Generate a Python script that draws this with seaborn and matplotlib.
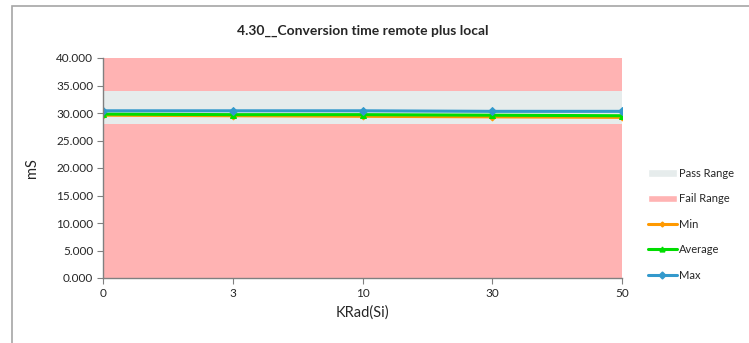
import numpy as np
import matplotlib.pyplot as plt
import seaborn as sns
import pandas as pd
from matplotlib.patches import Rectangle, Patch
from matplotlib.lines import Line2D
from matplotlib.ticker import FormatStrFormatter

sns.set_style('white')
plt.rcParams['font.family'] = ['Lato', 'DejaVu Sans']

# values
krad = ['0', '3', '10', '30', '50']
min_vals = [29.6, 29.5, 29.4, 29.3, 29.2]
avg_vals = [29.8, 29.7, 29.7, 29.6, 29.5]
max_vals = [30.4, 30.4, 30.4, 30.3, 30.3]
pass_low, pass_high = 28.0, 34.0
fail_low, fail_high = 0.0, 40.0

fig = plt.figure(figsize=(7.49, 3.43), dpi=100)
ax = fig.add_axes([103 / 749, 1 - 278 / 343, (622 - 103) / 749, (278 - 58) / 343])

# outer chart border
fig.patches.append(Rectangle((11.5 / 749, -0.05), 1.0, 1 - 6.5 / 343 + 0.05,
                             transform=fig.transFigure, fill=False,
                             edgecolor='#a6a6a6', linewidth=1.2))

xs = np.arange(len(krad))
fail_col = '#ffb3b3'
pass_col = '#e6ecec'
ax.fill_between(xs, fail_low, pass_low, color=fail_col, linewidth=0)
ax.fill_between(xs, pass_low, pass_high, color=pass_col, linewidth=0)
ax.fill_between(xs, pass_high, fail_high, color=fail_col, linewidth=0)

df = pd.DataFrame({'x': xs, 'Min': min_vals, 'Average': avg_vals, 'Max': max_vals})
styles = {'Min': ('#ff9900', 'D', 3.5), 'Average': ('#00dd00', '^', 4.5), 'Max': ('#3399cc', 'D', 4.5)}
for name, (col, mk, ms) in styles.items():
    sns.lineplot(data=df, x='x', y=name, ax=ax, color=col, marker=mk, markersize=ms,
                 markeredgecolor=col, linewidth=2.2, legend=False)

ax.set_xlim(0, len(krad) - 1)
ax.set_ylim(0, 40)
ax.set_xticks(xs)
ax.set_xticklabels(krad)
ax.set_yticks(np.arange(0, 40.1, 5))
ax.yaxis.set_major_formatter(FormatStrFormatter('%.3f'))
ax.tick_params(axis='both', labelsize=8.5, length=4, color='#808080', direction='out',
               bottom=True, left=True, pad=3)
for s in ['top', 'right']:
    ax.spines[s].set_visible(False)
for s in ['left', 'bottom']:
    ax.spines[s].set_color('#808080')
    ax.spines[s].set_linewidth(1)
ax.set_xlabel('KRad(Si)', fontsize=10.5, labelpad=5)
ax.set_ylabel('mS', fontsize=10.5, labelpad=12)
ax.set_title('4.30__Conversion time remote plus local', fontsize=10, fontweight='bold', pad=17)

handles = [Patch(facecolor=pass_col, label='Pass Range'),
           Patch(facecolor=fail_col, label='Fail Range')]
for name, (col, mk, ms) in styles.items():
    handles.append(Line2D([0], [0], color=col, marker=mk, markersize=ms - 1, linewidth=2.2, label=name))
fig.legend(handles=handles, loc='upper left', bbox_to_anchor=(638 / 749, 1 - 158 / 343),
           frameon=False, fontsize=8, labelspacing=1.3, handlelength=2.6, handletextpad=0.2,
           handleheight=0.7)

plt.savefig('out.png', dpi=100)
